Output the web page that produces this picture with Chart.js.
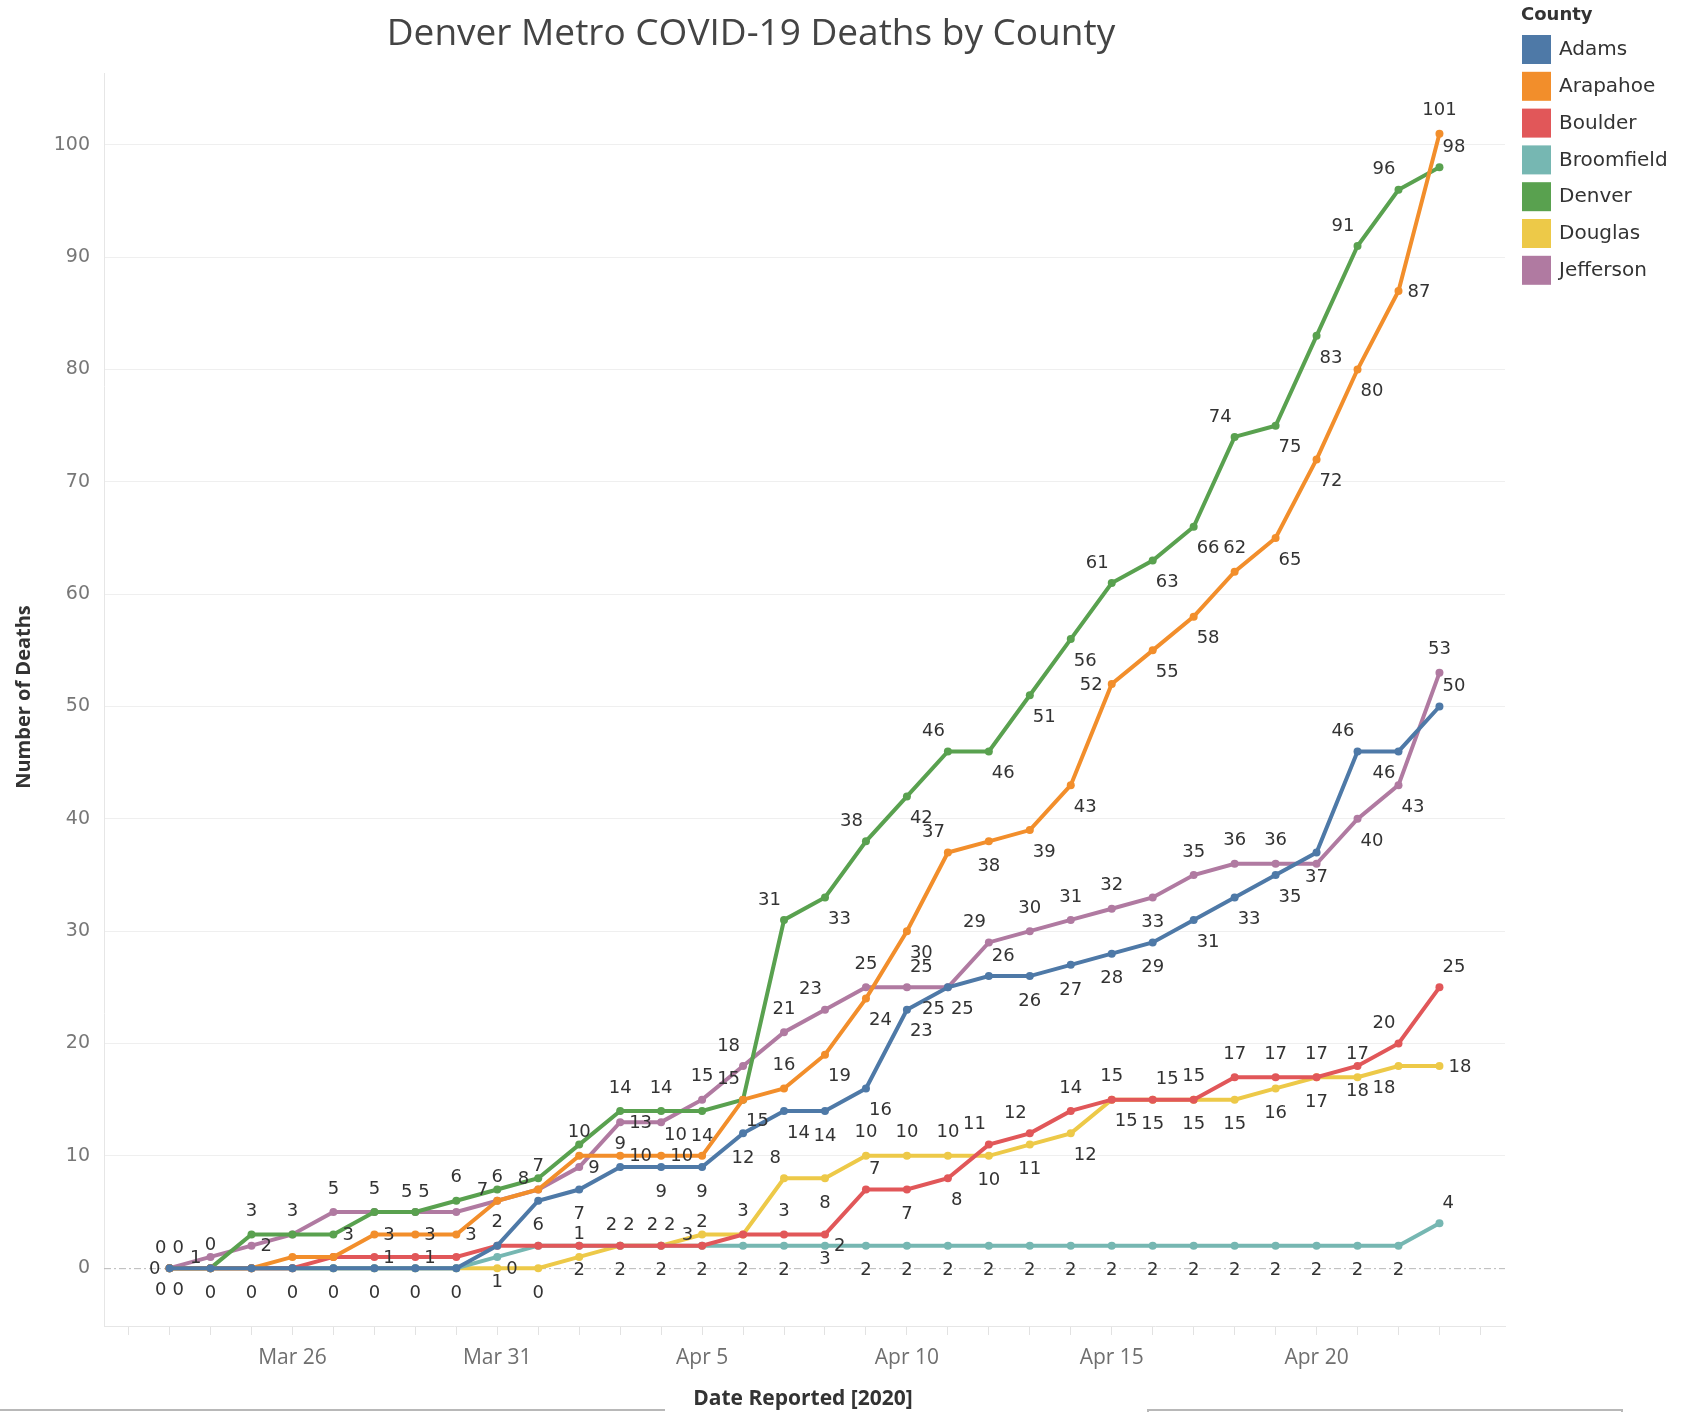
<!DOCTYPE html>
<html>
<head>
<meta charset="utf-8">
<title>Denver Metro COVID-19 Deaths by County</title>
<script src="https://cdn.jsdelivr.net/npm/chart.js@4.4.1/dist/chart.umd.min.js"></script>
<style>
  html, body { margin: 0; padding: 0; background: #fff; }
  #wrap { position: relative; width: 1681px; height: 1412px; overflow: hidden; }
  #chart { position: absolute; left: 0; top: 0; }
  .rule { position: absolute; border-top: 2px solid #b8b8b8; }
</style>
</head>
<body>
<div id="wrap">
  <canvas id="chart" width="1681" height="1412"></canvas>
  <div class="rule" style="left:0;top:1409px;width:665px"></div>
  <div class="rule" style="left:1147px;top:1409px;width:472px;height:6px;border-left:2px solid #b8b8b8;border-right:2px solid #b8b8b8"></div>
</div>
<script>
// Dates reported (2020), one point per day
var dates = [
  'Mar 23', 'Mar 24', 'Mar 25', 'Mar 26', 'Mar 27', 'Mar 28', 'Mar 29', 'Mar 30',
  'Mar 31', 'Apr 1', 'Apr 2', 'Apr 3', 'Apr 4', 'Apr 5', 'Apr 6', 'Apr 7',
  'Apr 8', 'Apr 9', 'Apr 10', 'Apr 11', 'Apr 12', 'Apr 13', 'Apr 14', 'Apr 15',
  'Apr 16', 'Apr 17', 'Apr 18', 'Apr 19', 'Apr 20', 'Apr 21', 'Apr 22', 'Apr 23'
];

// Cumulative deaths per county
var adams      = [0, 0, 0, 0, 0, 0, 0, 0, 2, 6, 7, 9, 9, 9, 12, 14, 14, 16, 23, 25, 26, 26, 27, 28, 29, 31, 33, 35, 37, 46, 46, 50];
var arapahoe   = [0, 0, 0, 1, 1, 3, 3, 3, 6, 7, 10, 10, 10, 10, 15, 16, 19, 24, 30, 37, 38, 39, 43, 52, 55, 58, 62, 65, 72, 80, 87, 101];
var boulder    = [0, 0, 0, 0, 1, 1, 1, 1, 2, 2, 2, 2, 2, 2, 3, 3, 3, 7, 7, 8, 11, 12, 14, 15, 15, 15, 17, 17, 17, 18, 20, 25];
var broomfield = [0, 0, 0, 0, 0, 0, 0, 0, 1, 2, 2, 2, 2, 2, 2, 2, 2, 2, 2, 2, 2, 2, 2, 2, 2, 2, 2, 2, 2, 2, 2, 4];
var denver     = [0, 0, 3, 3, 3, 5, 5, 6, 7, 8, 11, 14, 14, 14, 15, 31, 33, 38, 42, 46, 46, 51, 56, 61, 63, 66, 74, 75, 83, 91, 96, 98];
var douglas    = [0, 0, 0, 0, 0, 0, 0, 0, 0, 0, 1, 2, 2, 3, 3, 8, 8, 10, 10, 10, 10, 11, 12, 15, 15, 15, 15, 16, 17, 17, 18, 18];
var jefferson  = [0, 1, 2, 3, 5, 5, 5, 5, 6, 7, 9, 13, 13, 15, 18, 21, 23, 25, 25, 25, 29, 30, 31, 32, 33, 35, 36, 36, 36, 40, 43, 53];

var counties = ['Adams', 'Arapahoe', 'Boulder', 'Broomfield', 'Denver', 'Douglas', 'Jefferson'];
var series = [adams, arapahoe, boulder, broomfield, denver, douglas, jefferson];
var colors = ['#4e79a7', '#f28e2b', '#e15759', '#76b7b2', '#59a14f', '#edc948', '#b07aa1'];

var yTicks = [0, 10, 20, 30, 40, 50, 60, 70, 80, 90, 100];
var xLabelEvery = 5;   // a date label every 5 days, starting Mar 26
var xLabelFirst = 3;

var LABEL_FONT = '18px "DejaVu Sans"';

// Does rectangle r {l,t,r,b} touch the segment (x1,y1)-(x2,y2)?
function rectHitsSeg(r, x1, y1, x2, y2) {
  var t0 = 0, t1 = 1;
  var dx = x2 - x1, dy = y2 - y1;
  var p = [-dx, dx, -dy, dy];
  var q = [x1 - r.l, r.r - x1, y1 - r.t, r.b - y1];
  for (var i = 0; i < 4; i++) {
    if (p[i] === 0) {
      if (q[i] < 0) return false;
    } else {
      var t = q[i] / p[i];
      if (p[i] < 0) { if (t > t1) return false; if (t > t0) t0 = t; }
      else { if (t < t0) return false; if (t < t1) t1 = t; }
    }
  }
  return true;
}

function rectsOverlap(a, b) {
  return a.l < b.r && b.l < a.r && a.t < b.b && b.t < a.b;
}

function unit(x, y) {
  var m = Math.sqrt(x * x + y * y) || 1;
  return { x: x / m, y: y / m };
}

function angleDiff(a, b) {
  var d = Math.abs(a - b) % 360;
  return d > 180 ? 360 - d : d;
}

// Preferred label direction (degrees, screen coords): outside of the bend
function preferredAngle(pts, allPts, i, s) {
  var p = pts[i], prev = pts[i - 1], next = pts[i + 1];
  var ua = prev ? unit(prev.x - p.x, prev.y - p.y) : null;
  var ub = next ? unit(next.x - p.x, next.y - p.y) : null;
  if (!ua) return Math.atan2(-ub.y, -ub.x) * 180 / Math.PI;
  if (!ub) return Math.atan2(-ua.y, -ua.x) * 180 / Math.PI;
  var u = { x: ua.x + ub.x, y: ua.y + ub.y };
  if (Math.sqrt(u.x * u.x + u.y * u.y) > 0.08) return Math.atan2(-u.y, -u.x) * 180 / Math.PI;
  // nearly straight: go below unless a neighbour series sits close underneath
  var d = unit(next.x - prev.x, next.y - prev.y);
  var down = d.x >= 0 ? { x: -d.y, y: d.x } : { x: d.y, y: -d.x };
  var gapUp = Infinity, gapDown = Infinity;
  allPts.forEach(function(o, k) {
    if (k === s) return;
    var g = p.y - o[i].y;
    if (g > 0.5 && g < gapUp) gapUp = g;
    if (g < -0.5 && -g < gapDown) gapDown = -g;
  });
  if (gapDown < 45 && gapUp > gapDown) down = { x: -down.x, y: -down.y };
  return Math.atan2(down.y, down.x) * 180 / Math.PI;
}

// Value labels next to each point, placed away from lines, marks and other labels
var valueLabels = {
  id: 'valueLabels',
  afterDatasetsDraw: function(chart) {
    var ctx = chart.ctx;
    var area = chart.chartArea;
    var metas = chart.data.datasets.map(function(ds, i) { return chart.getDatasetMeta(i).data; });
    var segs = [];
    var marks = [];
    metas.forEach(function(pts, s) {
      for (var i = 0; i < pts.length; i++) {
        marks.push({ s: s, i: i, x: pts[i].x, y: pts[i].y });
        if (i > 0) segs.push([pts[i - 1].x, pts[i - 1].y, pts[i].x, pts[i].y]);
      }
    });
    var placed = [];
    ctx.save();
    ctx.font = LABEL_FONT;
    ctx.fillStyle = '#333';
    ctx.textAlign = 'center';
    ctx.textBaseline = 'middle';

    for (var i = 0; i < dates.length; i++) {
      metas.forEach(function(pts, s) {
        var p = pts[i];
        var text = String(series[s][i]);
        var w = ctx.measureText(text).width;
        var h = 13;
        var cands = [
          { a: -90, dx: 0, dy: -24 },
          { a: -45, dx: w / 2 + 3, dy: -21 },
          { a: 0, dx: w / 2 + 9, dy: 0 },
          { a: 45, dx: w / 2 + 3, dy: 21 },
          { a: 90, dx: 0, dy: 24 },
          { a: 135, dx: -(w / 2 + 3), dy: 21 },
          { a: 180, dx: -(w / 2 + 9), dy: 0 },
          { a: -135, dx: -(w / 2 + 3), dy: -21 }
        ];
        var want = preferredAngle(pts, metas, i, s);

        var best = null, bestCost = Infinity;
        cands.forEach(function(c) {
          var cx = p.x + c.dx, cy = p.y + c.dy;
          var r = { l: cx - w / 2, r: cx + w / 2, t: cy - h / 2, b: cy + h / 2 };
          if (r.l < area.left || r.r > area.right || r.t < area.top || r.b > area.bottom) return;
          for (var j = 0; j < placed.length; j++) if (rectsOverlap(r, placed[j])) return;
          for (var m = 0; m < marks.length; m++) {
            var mk = marks[m];
            if (mk.s === s && mk.i === i) continue;
            if (rectsOverlap(r, { l: mk.x - 5, r: mk.x + 5, t: mk.y - 5, b: mk.y + 5 })) return;
          }
          var pad = { l: r.l - 3, r: r.r + 3, t: r.t - 3, b: r.b + 3 };
          var hits = 0;
          segs.forEach(function(sg) { if (rectHitsSeg(pad, sg[0], sg[1], sg[2], sg[3])) hits++; });
          if (hits > 1) return;
          var cost = hits * 10 + angleDiff(c.a, want) / 45;
          if (cost < bestCost) { bestCost = cost; best = { x: cx, y: cy, r: r }; }
        });
        if (best) {
          placed.push({ l: best.r.l - 1, r: best.r.r + 1, t: best.r.t - 1, b: best.r.b + 1 });
          ctx.fillText(text, best.x, best.y + 1);
        }
      });
    }
    ctx.restore();
  }
};

// Dashed zero line, title, axis titles and legend
var decor = {
  id: 'decor',
  beforeDatasetsDraw: function(chart) {
    var ctx = chart.ctx;
    var area = chart.chartArea;
    var y0 = chart.scales.y.getPixelForValue(0);
    ctx.save();
    ctx.strokeStyle = '#b8b8b8';
    ctx.lineWidth = 1;
    ctx.setLineDash([7, 3, 2, 3]);
    ctx.beginPath();
    ctx.moveTo(area.left, y0 + 0.5);
    ctx.lineTo(area.right, y0 + 0.5);
    ctx.stroke();
    ctx.restore();
  },
  afterDraw: function(chart) {
    var ctx = chart.ctx;
    ctx.save();
    ctx.fillStyle = '#444';
    ctx.textAlign = 'center';
    ctx.textBaseline = 'middle';
    ctx.font = '37px "Open Sans"';
    ctx.fillText('Denver Metro COVID-19 Deaths by County', 751, 34);

    ctx.fillStyle = '#333';
    ctx.font = 'bold 21px "Open Sans"';
    ctx.fillText('Date Reported [2020]', 803, 1399);
    ctx.font = 'bold 20px "Open Sans"';
    ctx.translate(24, 697);
    ctx.rotate(-Math.PI / 2);
    ctx.fillText('Number of Deaths', 0, 0);
    ctx.restore();

    // Legend
    ctx.save();
    ctx.textAlign = 'left';
    ctx.textBaseline = 'middle';
    ctx.fillStyle = '#333';
    ctx.font = 'bold 18px "DejaVu Sans"';
    ctx.fillText('County', 1521, 15);
    ctx.font = '20px "DejaVu Sans"';
    counties.forEach(function(name, i) {
      var cy = 49 + i * 36.8;
      ctx.fillStyle = colors[i];
      ctx.fillRect(1522, cy - 14, 29, 29);
      ctx.fillStyle = '#333';
      ctx.fillText(name, 1559, cy + 1);
    });
    ctx.restore();
  }
};

var datasets = series.map(function(values, s) {
  return {
    label: counties[s],
    data: values.map(function(v, i) { return { x: i, y: v }; }),
    borderColor: colors[s],
    backgroundColor: colors[s],
    borderWidth: 4,
    pointRadius: 4,
    pointBorderWidth: 0,
    pointHoverRadius: 4,
    tension: 0
  };
});

new Chart(document.getElementById('chart'), {
  type: 'line',
  data: { datasets: datasets },
  options: {
    responsive: false,
    animation: false,
    layout: { padding: { top: 73, right: 176, left: 0, bottom: 0 } },
    plugins: {
      legend: { display: false },
      tooltip: { enabled: false }
    },
    scales: {
      x: {
        type: 'linear',
        min: -1.6,
        max: dates.length + 0.6,
        afterFit: function(s) { s.height = 86; },
        afterBuildTicks: function(s) {
          var ticks = [];
          for (var d = -1; d <= dates.length; d++) ticks.push({ value: d });
          s.ticks = ticks;
        },
        grid: { drawOnChartArea: false, drawTicks: true, tickLength: 9, color: '#e2e2e2' },
        border: { display: true, color: '#e6e6e6' },
        ticks: {
          autoSkip: false,
          maxRotation: 0,
          padding: 10,
          color: '#6f6f6f',
          font: { family: '"Open Sans"', size: 21 },
          callback: function(v) {
            var i = Math.round(v);
            if (i < xLabelFirst || (i - xLabelFirst) % xLabelEvery !== 0) return '';
            return dates[i] || '';
          }
        }
      },
      y: {
        min: -5.15,
        max: 106.4,
        afterFit: function(s) { s.width = 104; },
        afterBuildTicks: function(s) {
          s.ticks = yTicks.map(function(v) { return { value: v }; });
        },
        grid: {
          drawTicks: false,
          color: function(c) { return c.tick && c.tick.value === 0 ? 'rgba(0,0,0,0)' : '#efefef'; }
        },
        border: { display: true, color: '#e6e6e6' },
        ticks: {
          padding: 14,
          color: '#777',
          font: { family: '"DejaVu Sans"', size: 19 }
        }
      }
    }
  },
  plugins: [decor, valueLabels]
});
</script>
</body>
</html>
